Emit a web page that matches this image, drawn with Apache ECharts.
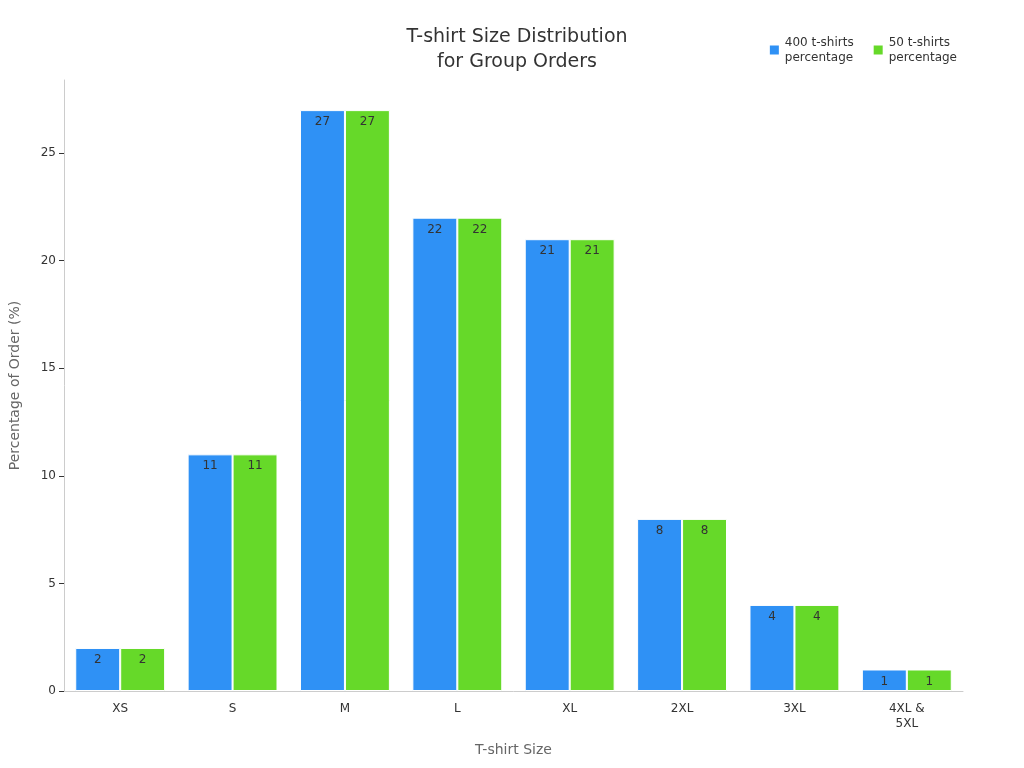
<!DOCTYPE html>
<html><head><meta charset="utf-8">
<script src="https://cdn.jsdelivr.net/npm/echarts@6/dist/echarts.min.js"></script>
<style>html,body{margin:0;padding:0;background:#fff}#c{width:1024px;height:768px}</style>
</head><body><div id="c"></div>
<script>
const categories = ['XS','S','M','L','XL','2XL','3XL','4XL &\n5XL'];
const series400 = [2,11,27,22,21,8,4,1];
const series50 = [2,11,27,22,21,8,4,1];
const seriesNames = ['400 t-shirts\npercentage','50 t-shirts\npercentage'];
const chart = echarts.init(document.getElementById('c'));
const font = 'DejaVu Sans';
const lbl = {show:true, position:'insideTop', color:'#333', fontSize:12, fontFamily:font, distance:6};
chart.setOption({
  textStyle:{fontFamily:font},
  title:{text:'T-shirt Size Distribution\nfor Group Orders', left:512, textAlign:'center', top:20,
    textStyle:{fontSize:19, fontWeight:'normal', color:'#333', lineHeight:25, fontFamily:font}},
  legend:{top:30, right:62, itemWidth:11, itemHeight:11, itemGap:18, icon:'rect',
    textStyle:{fontSize:12, color:'#333', fontFamily:font, lineHeight:15}},
  grid:{left:60, right:61, top:80, bottom:77},
  xAxis:{type:'category', data:categories, name:'T-shirt Size', nameLocation:'middle', nameGap:52,
    nameTextStyle:{fontSize:14, color:'#666'},
    axisLine:{lineStyle:{color:'#ccc'}}, axisTick:{show:false},
    axisLabel:{color:'#333', fontSize:12, margin:10, lineHeight:15}},
  yAxis:{type:'value', min:0, max:28.4, interval:5, name:'Percentage of Order (%)', nameLocation:'middle', nameGap:42,
    nameTextStyle:{fontSize:14, color:'#666'},
    axisLine:{show:true, lineStyle:{color:'#ccc'}}, axisTick:{show:true, length:5, lineStyle:{color:'#333'}},
    splitLine:{show:false},
    axisLabel:{color:'#333', fontSize:12, margin:8, showMaxLabel:false}},
  series:[
    {name:seriesNames[0], type:'bar', data:series400, barGap:'0%', barCategoryGap:'20%',
      itemStyle:{color:'#2f91f5', borderColor:'#fff', borderWidth:1}, label:lbl},
    {name:seriesNames[1], type:'bar', data:series50,
      itemStyle:{color:'#66d929', borderColor:'#fff', borderWidth:1}, label:lbl}
  ]
});
</script></body></html>
